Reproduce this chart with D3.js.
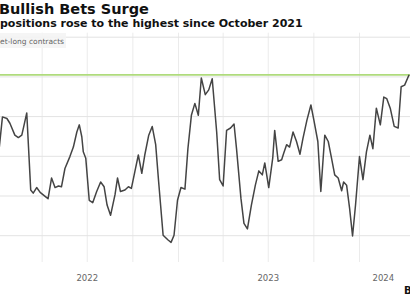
<!DOCTYPE html>
<html>
<head>
<meta charset="utf-8">
<script src="https://cdn.jsdelivr.net/npm/d3@7"></script>
<style>
  body { margin: 0; background: #fff; }
  svg { display: block; }
</style>
</head>
<body>
<svg id="chart"></svg>
<script>
// weekly net-long positions, thousands of contracts
const dates = [
  '2022-01-05','2022-01-12','2022-01-21','2022-01-27','2022-02-06','2022-02-13','2022-02-20','2022-02-24',
  '2022-03-02','2022-03-10','2022-03-15','2022-03-22','2022-03-29','2022-04-08','2022-04-14','2022-04-21',
  '2022-04-28','2022-05-05','2022-05-11','2022-05-18','2022-05-28','2022-06-04','2022-06-11','2022-06-16',
  '2022-06-21','2022-06-24','2022-06-29','2022-07-06','2022-07-13','2022-07-21','2022-07-29','2022-08-05',
  '2022-08-11','2022-08-18','2022-08-27','2022-09-01','2022-09-07','2022-09-16','2022-09-23','2022-09-29',
  '2022-10-06','2022-10-13','2022-10-20','2022-10-26','2022-11-03','2022-11-10','2022-11-17','2022-11-23',
  '2022-12-02','2022-12-12','2022-12-18','2022-12-24','2022-12-31','2023-01-07','2023-01-15','2023-01-21',
  '2023-01-28','2023-02-04','2023-02-11','2023-02-17','2023-02-25','2023-03-04','2023-03-11','2023-03-20',
  '2023-03-26','2023-04-02','2023-04-09','2023-04-17','2023-04-24','2023-04-29','2023-05-08','2023-05-14',
  '2023-05-21','2023-05-29','2023-06-06','2023-06-13','2023-06-20','2023-06-25','2023-07-03','2023-07-11',
  '2023-07-15','2023-07-22','2023-07-29','2023-08-02','2023-08-08','2023-08-14','2023-08-21','2023-08-28',
  '2023-09-04','2023-09-10','2023-09-18','2023-09-26','2023-10-02','2023-10-10','2023-10-16','2023-10-24',
  '2023-10-31','2023-11-06','2023-11-13','2023-11-20','2023-11-27','2023-12-01','2023-12-07','2023-12-13',
  '2023-12-19','2023-12-25','2024-01-02','2024-01-09','2024-01-16','2024-01-23','2024-01-29','2024-02-05',
  '2024-02-13','2024-02-20','2024-02-26','2024-03-04','2024-03-12','2024-03-20','2024-03-26','2024-04-02',
  '2024-04-11'
];
const netLong = [
  207,249,247,241,226,223,226,237,
  254,157,153,160,154,149,146,172,
  160,162,161,184,199,211,230,239,
  224,205,197,144,141,155,167,161,
  138,125,151,172,155,157,161,159,
  180,201,178,201,226,237,214,167,
  100,94,91,100,144,160,158,209,
  251,266,251,298,277,283,297,230,
  170,162,232,235,240,209,146,115,
  108,138,163,181,176,191,160,197,
  232,193,195,203,214,211,230,218,
  202,222,245,264,245,218,155,226,
  218,199,176,172,156,167,163,134,
  99,138,199,170,205,226,209,260,
  239,274,272,260,237,235,287,289,
  302
];
const oct2021High = 302;
const yTicks = [100, 150, 200, 250, 300, 350];
const yearLabels = ['2022', '2023', '2024'];
const yearLabelDates = ['2022-07-01', '2023-07-01', '2024-02-18'];

const WIDTH = 410;
const HEIGHT = 300;
const PLOT_TOP = 36.7;
const PLOT_BOTTOM = 262;

const parse = d3.utcParse('%Y-%m-%d');
const data = dates.map((d, i) => ({ date: parse(d), value: netLong[i] }));

const svg = d3.select('#chart')
  .attr('width', WIDTH)
  .attr('height', HEIGHT)
  .attr('font-family', '"DejaVu Sans", sans-serif');

const xScale = d3.scaleUtc()
  .domain([parse('2022-01-01'), parse('2024-01-01')])
  .range([-3, 359]);

const yScale = d3.scaleLinear()
  .domain([100, 350])
  .range([235.2, 36.7]);

// vertical quarterly gridlines
const xGrid = d3.axisBottom(xScale)
  .ticks(d3.utcMonth.every(3))
  .tickSize(-(PLOT_BOTTOM - PLOT_TOP + 4))
  .tickFormat('');

svg.append('g')
  .attr('class', 'x-grid')
  .attr('transform', `translate(0, ${PLOT_BOTTOM})`)
  .call(xGrid)
  .call(g => g.select('.domain').remove())
  .call(g => g.selectAll('.tick line').attr('stroke', '#ebebeb').attr('stroke-width', 1));

// horizontal gridlines
const yGrid = d3.axisRight(yScale)
  .tickValues(yTicks)
  .tickSize(WIDTH)
  .tickFormat('');

svg.append('g')
  .attr('class', 'y-grid')
  .call(yGrid)
  .call(g => g.select('.domain').remove())
  .call(g => g.selectAll('.tick line').attr('stroke', '#e3e3e3').attr('stroke-width', 1));

// unit label box
svg.append('rect')
  .attr('x', 0)
  .attr('y', 33)
  .attr('width', 66)
  .attr('height', 15)
  .attr('fill', '#f4f4f4')
  .attr('opacity', 0.9);

svg.append('text')
  .text('Net-long contracts')
  .attr('x', -5.5)
  .attr('y', 44)
  .attr('font-size', '7.5px')
  .attr('fill', '#666');

// October 2021 high reference
svg.append('line')
  .attr('x1', 0)
  .attr('x2', WIDTH)
  .attr('y1', yScale(oct2021High))
  .attr('y2', yScale(oct2021High))
  .attr('stroke', '#afdb7c')
  .attr('stroke-width', 1.8);

const line = d3.line()
  .x(d => xScale(d.date))
  .y(d => yScale(d.value));

svg.append('path')
  .datum(data)
  .attr('d', line)
  .attr('fill', 'none')
  .attr('stroke', '#444')
  .attr('stroke-width', 1.5)
  .attr('stroke-linejoin', 'round');

// year labels
const xAxis = d3.axisBottom(xScale)
  .tickValues(yearLabelDates.map(parse))
  .tickSize(0)
  .tickFormat((d, i) => yearLabels[i]);

svg.append('g')
  .attr('class', 'x-axis')
  .attr('transform', `translate(0, 272)`)
  .call(xAxis)
  .call(g => g.select('.domain').remove())
  .call(g => g.selectAll('text')
    .attr('font-family', '"DejaVu Sans", sans-serif')
    .attr('font-size', '8.5px')
    .attr('fill', '#666'));

// title and subtitle
svg.append('text')
  .text('Bullish Bets Surge')
  .attr('x', -1)
  .attr('y', 14)
  .attr('font-size', '14.5px')
  .attr('font-weight', 'bold')
  .attr('fill', '#111');

svg.append('text')
  .text('positions rose to the highest since October 2021')
  .attr('x', 0)
  .attr('y', 27)
  .attr('font-size', '11px')
  .attr('font-weight', 'bold')
  .attr('fill', '#111');

svg.append('text')
  .text('B')
  .attr('x', 404)
  .attr('y', 294)
  .attr('font-size', '10px')
  .attr('font-weight', 'bold')
  .attr('fill', '#111');
</script>
</body>
</html>
